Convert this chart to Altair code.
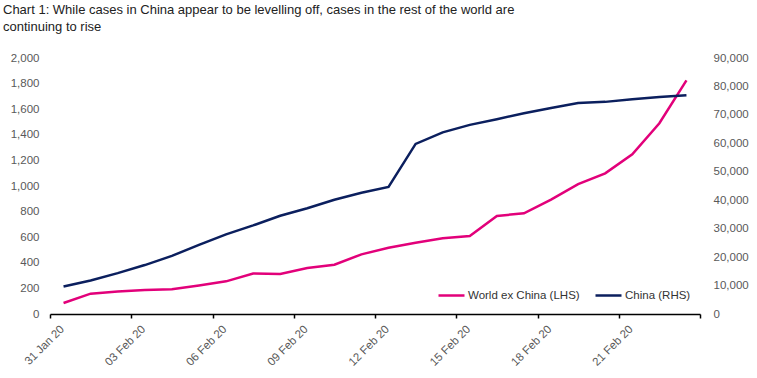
import altair as alt
import pandas as pd

# ---- data ----
tick_labels = ["31 Jan 20", "03 Feb 20", "06 Feb 20", "09 Feb 20",
               "12 Feb 20", "15 Feb 20", "18 Feb 20", "21 Feb 20"]
world_ex_china = [86, 159, 175, 187, 193, 222, 255, 316, 313, 359, 385, 466,
                  518, 557, 591, 609, 766, 787, 893, 1015, 1099, 1248, 1490, 1825]
china = [9692, 11791, 14380, 17205, 20438, 24324, 28018, 31161, 34546, 37198,
         40171, 42638, 44653, 59804, 63851, 66492, 68500, 70548, 72436, 74185,
         74576, 75465, 76288, 76936]
series_names = ["World ex China (LHS)", "China (RHS)"]
colors = ["#E2007A", "#0B1F5E"]
left_ticks = list(range(0, 2001, 200))
right_ticks = list(range(0, 90001, 10000))

n = len(china)
df = pd.DataFrame({
    "i": list(range(n)) * 2,
    "value": world_ex_china + china,
    "series": [series_names[0]] * n + [series_names[1]] * n,
})

FONT = "Liberation Sans"
GREY = "#595959"

label_expr = "[" + ",".join(f"'{t}'" for t in tick_labels) + ",''][round(datum.value / 3)]"

base = alt.Chart(df).transform_calculate(xpos="datum.i + 0.5")

x = alt.X(
    "xpos:Q",
    scale=alt.Scale(domain=[0, n], nice=False, zero=False),
    axis=alt.Axis(
        values=list(range(0, n + 1, 3)), labelExpr=label_expr, title=None,
        labelAngle=-45, labelFont=FONT, labelFontSize=11.5, labelColor=GREY,
        domainColor="black", domainWidth=1.5, tickColor="black", tickWidth=1.5,
        tickSize=4, labelPadding=5, labelOffset=8, grid=False,
    ),
)

color = alt.Color(
    "series:N",
    scale=alt.Scale(domain=series_names, range=colors),
    legend=alt.Legend(
        title=None, orient="none", legendX=387, legendY=223, direction="horizontal",
        symbolType="stroke", symbolStrokeWidth=2.5, symbolSize=676,
        labelFont=FONT, labelFontSize=11.5, labelColor="#333333",
        labelOffset=2, columnPadding=10, padding=0,
    ),
)

left = base.transform_filter(alt.datum.series == series_names[0]).mark_line(strokeWidth=2.5).encode(
    x=x,
    y=alt.Y("value:Q", scale=alt.Scale(domain=[0, 2000], nice=False),
            axis=alt.Axis(orient="left", values=left_ticks, format=",d", title=None,
                          domain=False, ticks=False, grid=False, labelPadding=11,
                          labelFont=FONT, labelFontSize=11.5, labelColor=GREY)),
    color=color,
)

right = base.transform_filter(alt.datum.series == series_names[1]).mark_line(strokeWidth=2.5).encode(
    x=x,
    y=alt.Y("value:Q", scale=alt.Scale(domain=[0, 90000], nice=False),
            axis=alt.Axis(orient="right", values=right_ticks, format=",d", title=None,
                          domain=False, ticks=False, grid=False, labelPadding=13,
                          labelFont=FONT, labelFontSize=11.5, labelColor=GREY)),
    color=color,
)

chart = alt.layer(left, right).resolve_scale(y="independent").properties(
    width=650, height=256,
    autosize="none",
    padding={"left": 50, "top": 58, "right": 57, "bottom": 64},
    title=alt.Title(
        text=["Chart 1: While cases in China appear to be levelling off, cases in the rest of the world are",
              "continuing to rise"],
        anchor="start", frame="group", dx=-47, offset=18,
        font=FONT, fontSize=13, fontWeight="normal", color="#222222", lineHeight=17,
    ),
).configure_view(stroke=None)

chart.save("out.html", embed_options={"renderer": "svg", "actions": False})
